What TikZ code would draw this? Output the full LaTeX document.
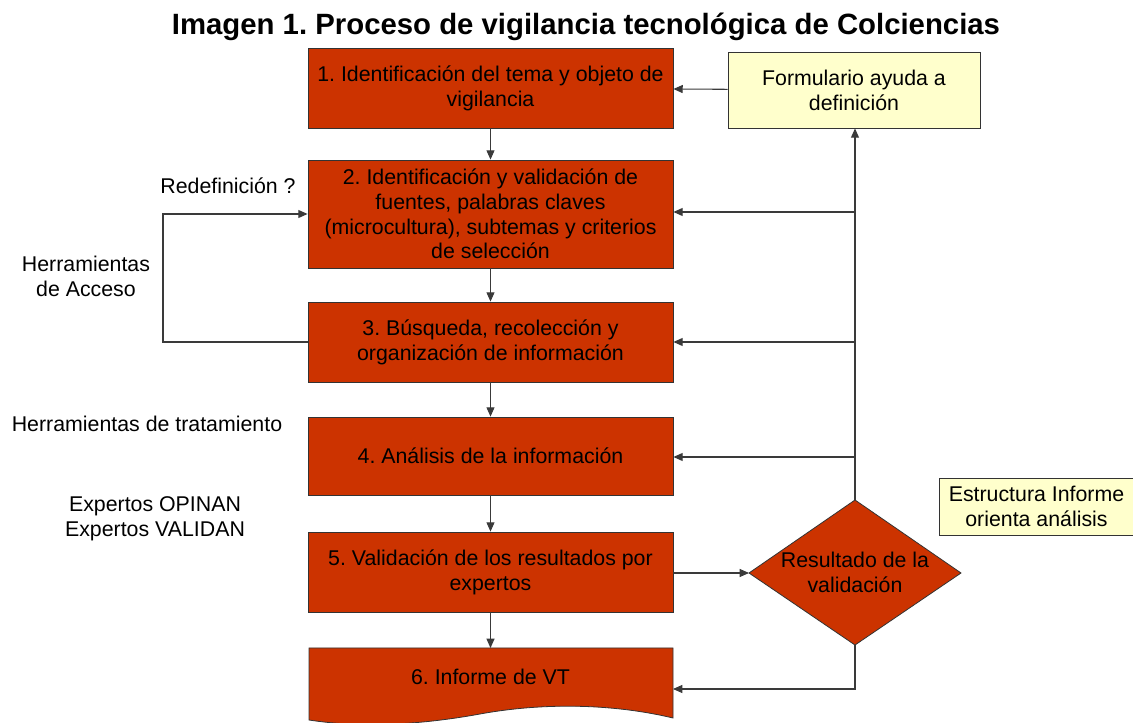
\documentclass[tikz,border=0pt]{standalone}
\usepackage{fontspec}
\setmainfont{Liberation Sans}
\usetikzlibrary{arrows.meta}
\frenchspacing
\definecolor{boxred}{HTML}{CC3300}
\definecolor{noteyel}{HTML}{FFFFCC}
\definecolor{lnc}{HTML}{3A3A3A}
\begin{document}
\begin{tikzpicture}[x=0.75pt,y=-0.75pt,
  every node/.style={font=\fontsize{16}{18.6}\selectfont},
  stepbox/.style={draw=black!80,fill=boxred,line width=0.6pt,minimum width=273.75pt,inner sep=0pt,align=center},
  notebox/.style={draw=black!80,fill=noteyel,line width=0.6pt,inner sep=0pt,align=center},
  lbl/.style={align=center,inner sep=0pt},
  conn/.style={draw=lnc,line width=0.8pt},
  arr/.style={conn,-{Triangle[length=7pt,width=6pt]}}]
\useasboundingbox (0,0) rectangle (1133,723);
\clip (0,0) rectangle (1133,723);
% title
\node[inner sep=0pt,font=\fontsize{22}{24}\selectfont\bfseries] (title) at (586,27) {Imagen 1. Proceso de vigilancia tecnológica de Colciencias};
% steps
\node[stepbox,minimum height=60pt] (s1) at (490.5,88) {1. Identificación del tema y objeto de\\vigilancia};
\node[stepbox,minimum height=81pt] (s2) at (490.5,214) {2. Identificación y validación de\\fuentes, palabras claves\\(microcultura), subtemas y criterios\\de selección};
\node[stepbox,minimum height=60pt] (s3) at (490.5,342) {3. Búsqueda, recolección y\\organización de información};
\node[stepbox,minimum height=58.5pt] (s4) at (490.5,456) {4. Análisis de la información};
\node[stepbox,minimum height=60pt] (s5) at (490.5,572) {5. Validación de los resultados por\\expertos};
% document shape (step 6)
\draw[draw=black!80,fill=boxred,line width=0.6pt] (309,648) -- (673,648) -- (673,718)
   .. controls (610,703) and (540,703) .. (480,714)
   .. controls (420,725) and (360,728) .. (309,720) -- cycle;
\node[lbl] (s6) at (490.5,677) {6. Informe de VT};
\coordinate (s6top) at (490.5,648);
\coordinate (s6east) at (673,689);
% notes
\node[notebox,minimum width=189pt,minimum height=57pt] (form) at (854,90) {Formulario ayuda a\\definición};
\node[notebox,minimum width=146pt,minimum height=42.75pt] (estr) at (1036.5,506.5) {Estructura Informe\\orienta análisis};
% decision diamond
\coordinate (dT) at (855,500);
\coordinate (dR) at (961,573);
\coordinate (dB) at (855,645);
\coordinate (dL) at (749,573);
\draw[draw=black!80,fill=boxred,line width=0.6pt] (dT) -- (dR) -- (dB) -- (dL) -- cycle;
\node[lbl] (dec) at (855,572) {Resultado de la\\validación};
% side labels
\node[lbl] (redef) at (228,186) {Redefinición ?};
\node[lbl] (hacc) at (86,276) {Herramientas\\de Acceso};
\node[lbl] (htrat) at (147,424) {Herramientas de tratamiento};
\node[lbl] (exp) at (155,519) {Expertos OPINAN\\Expertos VALIDAN};
% main flow
\draw[arr] (s1) -- (s2);
\draw[arr] (s2) -- (s3);
\draw[arr] (s3) -- (s4);
\draw[arr] (s4) -- (s5);
\draw[arr] (s5) -- (s6top);
\draw[arr] (form) -- (s1);
\draw[arr] (s5.east |- dL) -- (dL);
% feedback from decision
\coordinate (vb2) at (855,212);
\coordinate (vb3) at (855,342);
\coordinate (vb4) at (855,457);
\coordinate (vbot) at (855,689);
\draw[arr] (dT) -- (form.south -| dT);
\draw[arr] (vb2) -- (s2.east |- vb2);
\draw[arr] (vb3) -- (s3.east |- vb3);
\draw[arr] (vb4) -- (s4.east |- vb4);
\draw[arr] (dB) -- (vbot) -- (s6east);
% left loop
\coordinate (lb) at (163,342);
\coordinate (lt) at (163,214);
\draw[arr] (s3.west) -- (lb) -- (lt) -- (s2.west |- lt);
\end{tikzpicture}
\end{document}
